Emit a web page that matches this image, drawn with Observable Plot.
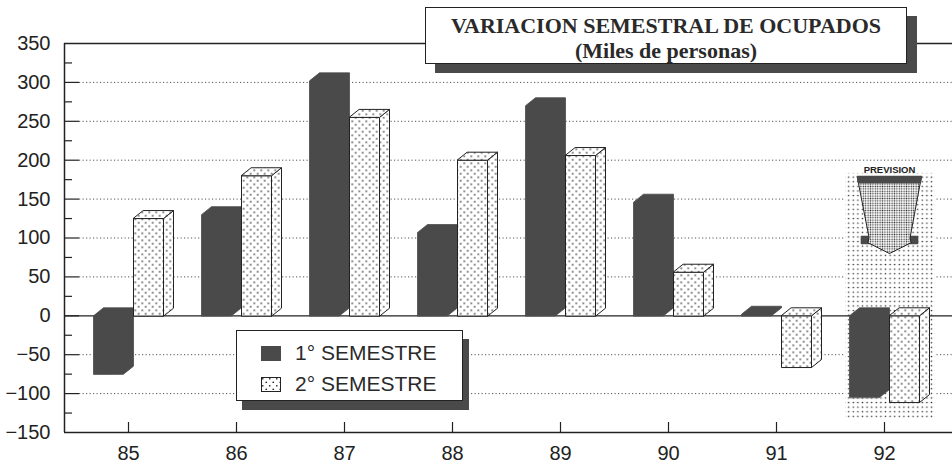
<!DOCTYPE html>
<html><head><meta charset="utf-8">
<script src="https://cdn.jsdelivr.net/npm/d3@7"></script>
<script src="https://cdn.jsdelivr.net/npm/@observablehq/plot@0.6"></script>
<style>
body{margin:0;background:#fff;}
#wrap{position:relative;width:952px;height:466px;overflow:hidden;font-family:"Liberation Sans",Arial,sans-serif;}
#title{position:absolute;left:425px;top:7px;width:480px;height:50px;padding-top:5px;border:1px solid #222;background:#fff;box-shadow:10px 9px 0 #4a4a4a;font-family:"Liberation Serif","Times New Roman",serif;font-weight:bold;font-size:22px;color:#2a2a2a;text-align:center;line-height:25px;}
#legend{position:absolute;left:236px;top:330px;width:225px;height:69px;border:1px solid #222;background:#fff;box-shadow:6px 9px 0 #4a4a4a;}
.item{position:absolute;left:24px;height:24px;display:flex;align-items:center;font-size:21px;color:#2a2a2a;}
.item svg{margin-right:14px;}
</style></head>
<body>
<svg width="0" height="0" style="position:absolute">
  <defs>
    <pattern id="dots" width="7" height="7" patternUnits="userSpaceOnUse">
      <rect width="7" height="7" fill="#fff"/>
      <circle cx="1.75" cy="1.75" r="0.85" fill="#222"/>
      <circle cx="5.25" cy="5.25" r="0.85" fill="#222"/>
    </pattern>
    <pattern id="fine" width="4.6" height="4.6" patternUnits="userSpaceOnUse">
      <rect width="4.6" height="4.6" fill="#fff"/>
      <circle cx="2.3" cy="2.3" r="0.8" fill="#333"/>
    </pattern>
    <pattern id="arrowfill" width="2.4" height="2.4" patternUnits="userSpaceOnUse">
      <rect width="2.4" height="2.4" fill="#fff"/>
      <circle cx="1.2" cy="1.2" r="0.75" fill="#333"/>
    </pattern>
  </defs>
</svg>
<div id="wrap">
  <div id="chart"></div>
  <div id="title">VARIACION SEMESTRAL DE OCUPADOS<br>(Miles de personas)</div>
  <div id="legend"></div>
</div>
<script>
// ---- data ----
const years = [85, 86, 87, 88, 89, 90, 91, 92];
const yearLabels = ["85", "86", "87", "88", "89", "90", "91", "92"];
const sem1 = [-75, 130, 302, 107, 270, 146, 2, -105];
const sem2 = [125, 180, 255, 200, 206, 56, -66, -111];
const yTicks = [-150, -100, -50, 0, 50, 100, 150, 200, 250, 300, 350];
const seriesNames = ["1\u00b0 SEMESTRE", "2\u00b0 SEMESTRE"];
const forecastYear = 92;
const forecastLabel = "PREVISION";

// ---- layout helpers ----
const DARK = "#4a4a4a";
const PX_YEAR = 108;              // px per category step
const PX_UNIT = 389 / 500;        // px per unit on y
const DX = 10 / PX_YEAR, DY = 8 / PX_UNIT;   // 3D depth
const FRONT = 30 / PX_YEAR, GAP = 5 / PX_YEAR;
const xDomain = [years[0] - 64 / PX_YEAR, years[0] + 824 / PX_YEAR];
const yMin = yTicks[0], yMax = yTicks[yTicks.length - 1];

const darkPolys = [], lightPolys = [];
function poly(arr, id, pts) { pts.forEach(([x, y]) => arr.push({id, x, y})); }

years.forEach((c, i) => {
  let v = sem1[i], lo = Math.min(0, v), hi = Math.max(0, v);
  let xl = c - GAP - FRONT, xr = c - GAP;
  poly(darkPolys, "d" + i, [[xl, lo], [xl, hi], [xl + DX, hi + DY], [xr + DX, hi + DY], [xr + DX, lo + DY], [xr, lo]]);
  v = sem2[i]; lo = Math.min(0, v); hi = Math.max(0, v);
  xl = c + GAP; xr = c + GAP + FRONT;
  poly(lightPolys, "f" + i, [[xl, lo], [xl, hi], [xr, hi], [xr, lo]]);
  poly(lightPolys, "s" + i, [[xr, lo], [xr, hi], [xr + DX, hi + DY], [xr + DX, lo + DY]]);
  poly(lightPolys, "t" + i, [[xl, hi], [xr, hi], [xr + DX, hi + DY], [xl + DX, hi + DY]]);
});

// forecast annotation (relative to group centre of the forecast year)
const gx = forecastYear + GAP;
const forecastBox = [{x1: forecastYear - 39 / PX_YEAR, x2: forecastYear + 51 / PX_YEAR, y1: -133, y2: 183}];
const arrowWings = [], arrowBody = [], arrowBand = [];
poly(arrowWings, "w", [[gx - 0.26, 102], [gx + 0.26, 102], [gx + 0.26, 93], [gx - 0.26, 93]]);
poly(arrowBody, "b", [[gx - 0.296, 179], [gx + 0.296, 179], [gx + 0.19, 100], [gx + 0.2, 94], [gx, 80], [gx - 0.2, 94], [gx - 0.19, 100]]);
poly(arrowBand, "t", [[gx - 0.296, 179], [gx + 0.296, 179], [gx + 0.285, 171], [gx - 0.285, 171]]);

const majors = yTicks.filter(v => v > yMin && v < yMax && v !== 0);
const minors = yTicks.slice(0, -1).map(v => v + 25);
const majorLen = 15 / PX_YEAR, minorLen = 8 / PX_YEAR;

const chart = Plot.plot({
  width: 952, height: 466,
  marginLeft: 64, marginRight: 0, marginTop: 43, marginBottom: 34,
  style: {fontFamily: "'Liberation Sans', Arial, sans-serif", fontSize: "20px", color: "#222", background: "transparent"},
  x: {domain: xDomain},
  y: {domain: [yMin, yMax]},
  marks: [
    // dotted grid
    Plot.ruleY(majors, {x1: xDomain[0] + majorLen, x2: xDomain[1], stroke: "#555", strokeWidth: 1, strokeDasharray: "1.2 2.3"}),
    // forecast background + arrow
    Plot.rect(forecastBox, {x1: "x1", x2: "x2", y1: "y1", y2: "y2", fill: "url(#fine)"}),
    Plot.line(arrowWings, {x: "x", y: "y", z: "id", fill: DARK, stroke: DARK, curve: "linear-closed"}),
    Plot.line(arrowBody, {x: "x", y: "y", z: "id", fill: "url(#arrowfill)", stroke: "#222", strokeWidth: 1, curve: "linear-closed"}),
    Plot.line(arrowBand, {x: "x", y: "y", z: "id", fill: DARK, stroke: DARK, curve: "linear-closed"}),
    Plot.text([forecastLabel], {x: gx, y: 184, text: d => d, fontSize: 9.5, fontWeight: "bold", lineAnchor: "bottom", fill: "#222"}),
    // zero line
    Plot.ruleY([0], {stroke: "#222", strokeWidth: 1.3}),
    // 3D bars
    Plot.line(darkPolys, {x: "x", y: "y", z: "id", fill: DARK, stroke: DARK, strokeWidth: 0.8, curve: "linear-closed"}),
    Plot.line(lightPolys, {x: "x", y: "y", z: "id", fill: "url(#dots)", stroke: "#222", strokeWidth: 1, curve: "linear-closed"}),
    // frame
    Plot.ruleY([yMax, yMin], {stroke: "#222", strokeWidth: 1.5}),
    Plot.ruleX([xDomain[0]], {y1: yMin, y2: yMax, stroke: "#222", strokeWidth: 1.5}),
    Plot.ruleY(majors.concat([0]), {x1: xDomain[0], x2: xDomain[0] + majorLen, stroke: "#222", strokeWidth: 1.2}),
    Plot.ruleY(minors, {x1: xDomain[0], x2: xDomain[0] + minorLen, stroke: "#222", strokeWidth: 1.2}),
    Plot.ruleX(years, {y1: yMin, y2: yMin + 10 / PX_UNIT, stroke: "#222", strokeWidth: 1.2}),
    // axes labels
    Plot.axisY(yTicks, {tickSize: 0, tickPadding: 14, fontSize: 20, fill: "#222"}),
    Plot.axisX(years, {tickSize: 0, tickPadding: 13, fontSize: 20, fill: "#222", tickFormat: (d, i) => yearLabels[years.indexOf(d)]})
  ]
});
document.getElementById("chart").appendChild(chart);

// legend
const legend = document.getElementById("legend");
const swatches = [
  `<svg width="20" height="15"><rect x="0" y="0" width="20" height="15" fill="${DARK}"/></svg>`,
  `<svg width="20" height="15"><rect x="0.5" y="0.5" width="19" height="14" fill="url(#dots)" stroke="#222"/></svg>`
];
seriesNames.forEach((name, i) => {
  const d = document.createElement("div");
  d.className = "item";
  d.style.top = (10 + i * 31) + "px";
  d.innerHTML = swatches[i] + `<span>${name}</span>`;
  legend.appendChild(d);
});
</script>
</body></html>
